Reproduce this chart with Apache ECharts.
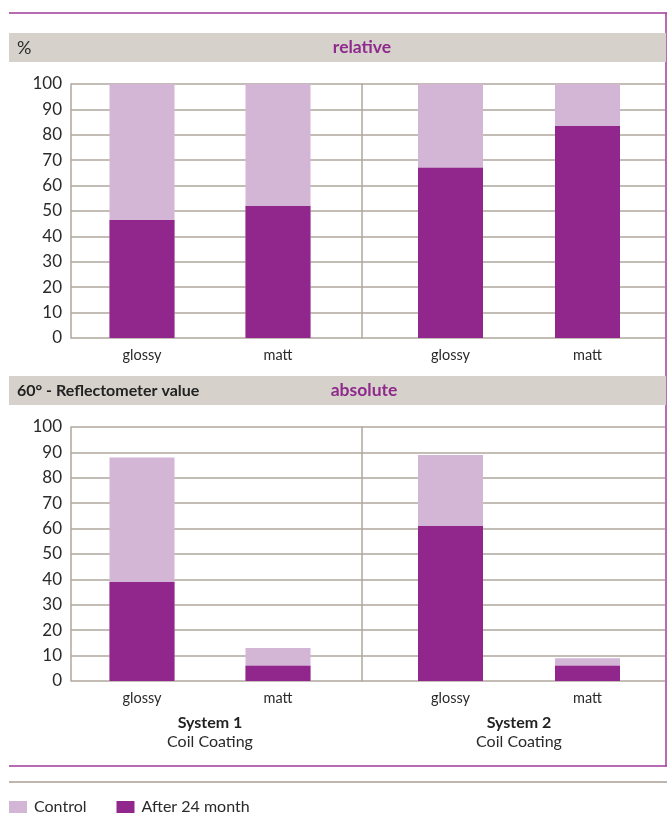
<!DOCTYPE html>
<html>
<head>
<meta charset="utf-8">
<script src="https://cdn.jsdelivr.net/npm/echarts@6/dist/echarts.min.js"></script>
<style>
  html, body { margin: 0; padding: 0; background: #fff; }
  #chart { width: 667px; height: 816px; }
</style>
</head>
<body>
<div id="chart"></div>
<script>
const categories = ['glossy', 'matt', 'glossy', 'matt']
const systems = ['System 1', 'System 2']
const systemSub = 'Coil Coating'
const seriesNames = ['Control', 'After 24 month']

// relative (%)
const relControl = [100, 100, 100, 100]
const relAfter = [46.5, 52, 67, 83.5]
// absolute (60° reflectometer)
const absControl = [88, 13, 89, 9]
const absAfter = [39, 6, 61, 6]

const colorControl = '#d3b5d5'
const colorAfter = '#91268c'
const gridColor = '#b0a79e'
const font = 'Lato'

const chart = echarts.init(document.getElementById('chart'))

const grids = []
const xAxes = []
const yAxes = []
const series = []

function addChart(top, control, after, withSystems) {
  const h = 254
  // background grids: left (with labels) and right (divider line)
  const bgLeft = grids.length
  grids.push({ left: 71, top: top, width: 291, height: h })
  grids.push({ left: 362, top: top, width: 303, height: h })
  for (let i = 0; i < 2; i++) {
    xAxes.push({ type: 'value', gridIndex: bgLeft + i, show: false, min: 0, max: 1 })
    yAxes.push({
      type: 'value', gridIndex: bgLeft + i, min: 0, max: 100, interval: 10,
      axisLine: { show: true, lineStyle: { color: gridColor, width: 1.5 } },
      axisTick: { show: false },
      axisLabel: { show: i === 0, color: '#2a2a2a', fontSize: 17, fontFamily: font, margin: 9 },
      splitLine: { show: true, lineStyle: { color: gridColor, width: 1.5 } }
    })
  }
  // bar grids, one per system
  const bars = [{ left: 74, width: 272 }, { left: 382, width: 274 }]
  bars.forEach((b, k) => {
    const gi = grids.length
    grids.push({ left: b.left, top: top, width: b.width, height: h })
    const xi = xAxes.length
    xAxes.push({
      type: 'category', gridIndex: gi,
      data: categories.slice(k * 2, k * 2 + 2),
      axisLine: { show: false }, axisTick: { show: false },
      axisLabel: { color: '#2a2a2a', fontSize: 14.5, fontFamily: font, margin: 10 }
    })
    if (withSystems) {
      xAxes.push({
        type: 'category', gridIndex: gi, position: 'bottom',
        data: [systems[k]],
        axisLine: { show: false }, axisTick: { show: false },
        axisLabel: {
          margin: 32,
          formatter: v => '{b|' + v + '}\n{n|' + systemSub + '}',
          rich: {
            b: { fontSize: 16, fontWeight: 'bold', color: '#222', fontFamily: font, lineHeight: 19 },
            n: { fontSize: 16, color: '#2a2a2a', fontFamily: font, lineHeight: 19 }
          }
        }
      })
    }
    const yi = yAxes.length
    yAxes.push({ type: 'value', gridIndex: gi, min: 0, max: 100, show: false })
    series.push({
      name: seriesNames[0], type: 'bar', xAxisIndex: xi, yAxisIndex: yi,
      barWidth: 65, barGap: '-100%', itemStyle: { color: colorControl },
      data: control.slice(k * 2, k * 2 + 2), silent: true, animation: false
    })
    series.push({
      name: seriesNames[1], type: 'bar', xAxisIndex: xi, yAxisIndex: yi,
      barWidth: 65, barGap: '-100%', itemStyle: { color: colorAfter },
      data: after.slice(k * 2, k * 2 + 2), silent: true, animation: false
    })
  })
}

addChart(84, relControl, relAfter, false)
addChart(427, absControl, absAfter, true)

const purple = '#9e3a9a'
const band = '#d6d1cb'

chart.setOption({
  animation: false,
  textStyle: { fontFamily: font },
  grid: grids,
  xAxis: xAxes,
  yAxis: yAxes,
  series: series,
  legend: {
    left: 9, top: 799, padding: 0,
    itemWidth: 18, itemHeight: 12, itemGap: 30,
    icon: 'rect',
    data: seriesNames,
    textStyle: { fontSize: 16, color: '#2a2a2a', fontFamily: font, padding: [0, 0, 0, 2] }
  },
  graphic: [
    { type: 'line', shape: { x1: 9, y1: 13, x2: 667, y2: 13 }, style: { stroke: purple, lineWidth: 1.5 } },
    { type: 'line', shape: { x1: 666, y1: 13, x2: 666, y2: 766 }, style: { stroke: purple, lineWidth: 1.5 } },
    { type: 'line', shape: { x1: 9, y1: 766, x2: 667, y2: 766 }, style: { stroke: purple, lineWidth: 1.5 } },
    { type: 'line', shape: { x1: 9, y1: 782, x2: 667, y2: 782 }, style: { stroke: '#a89e95', lineWidth: 1.5 } },
    { type: 'rect', shape: { x: 9, y: 33, width: 657, height: 29 }, style: { fill: band } },
    { type: 'rect', shape: { x: 9, y: 376, width: 657, height: 29 }, style: { fill: band } },
    { type: 'text', x: 17, y: 48, style: { text: '%', fill: '#2a2a2a', font: '18px ' + font, verticalAlign: 'middle' } },
    { type: 'text', x: 362, y: 47, style: { text: 'relative', fill: '#8e2a8c', font: 'bold 17.5px ' + font, align: 'center', verticalAlign: 'middle' } },
    { type: 'text', x: 17, y: 391, style: { text: '60° - Reflectometer value', fill: '#222', font: 'bold 16px ' + font, verticalAlign: 'middle' } },
    { type: 'text', x: 364, y: 390, style: { text: 'absolute', fill: '#8e2a8c', font: 'bold 17.5px ' + font, align: 'center', verticalAlign: 'middle' } }
  ]
})
</script>
</body>
</html>
